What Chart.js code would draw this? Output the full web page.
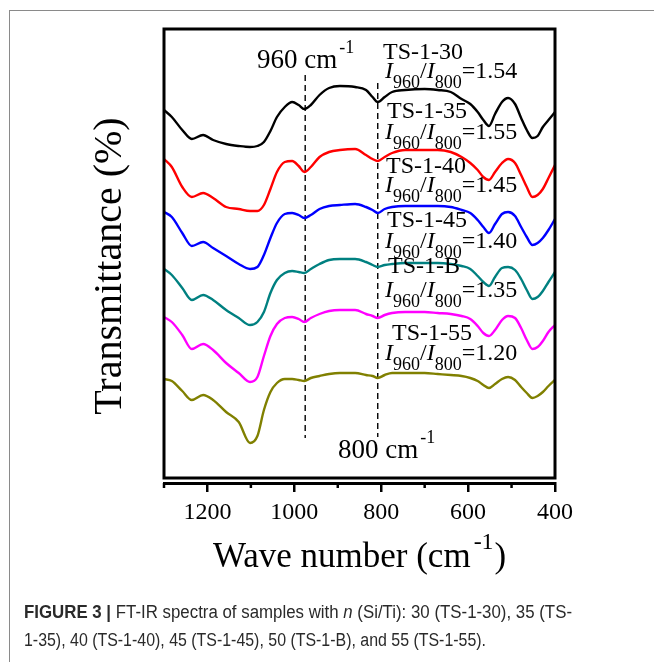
<!DOCTYPE html>
<html>
<head>
<meta charset="utf-8">
<script src="https://cdn.jsdelivr.net/npm/chart.js@4.4.1/dist/chart.umd.min.js"></script>
<style>
  html, body { margin: 0; padding: 0; background: #fff; }
  #wrap { position: relative; width: 654px; height: 662px; overflow: hidden; }
  #c { position: absolute; left: 0; top: 0; }
  #frame { position: absolute; left: 9px; top: 10px; width: 700px; height: 700px;
           border-left: 1px solid #8a8a8a; border-top: 1px solid #8a8a8a; }
  .cap { position: absolute; left: 24px; white-space: nowrap; color: #2a2a2a;
         font-family: "Liberation Sans", Arial, sans-serif; font-size: 18px;
         transform-origin: 0 0; }
  .cap b { font-weight: bold; }
</style>
</head>
<body>
<div id="wrap">
  <div id="frame"></div>
  <canvas id="c" width="654" height="662"></canvas>
  <div class="cap" id="cap1" style="top:602px"><b>FIGURE 3 |</b> FT-IR spectra of samples with <i>n</i> (Si/Ti): 30 (TS-1-30), 35 (TS-</div>
  <div class="cap" id="cap2" style="top:630px">1-35), 40 (TS-1-40), 45 (TS-1-45), 50 (TS-1-B), and 55 (TS-1-55).</div>
</div>
<script>
// ---- data (wavenumber, cm-1) ----
const wavenumbers = [1300,1282,1258,1236,1210,1187,1157,1128,1102,1085,
                     1070,1055,1040,1022,1005,990,977,962,942,920,
                     895,860,835,820,808,792,775,745,700,670,
                     640,615,595,578,565,552,538,522,508,492,
                     478,465,452,440,428,415,400];
// transmittance (arbitrary, offset units)
const ts30 = [373,366,353,344,348,343,339,337,336,337, 341,352,366,376,381,378,374,378,388,395,
              397,396,393,386,381,386,391,393,394,393, 391,384,379,371,363,357,369,381,385,379,
              365,353,345,347,356,363,371];
const ts35 = [324,316,296,286,290,285,276,274,272,272, 278,294,311,321,322,317,311,316,326,331,
              333,334,328,324,322,326,330,333,333,333, 331,326,320,313,306,303,311,320,324,320,
              308,296,286,288,294,305,318];
const ts40 = [271,266,250,237,241,235,227,219,214,216, 228,245,260,269,270,268,265,268,274,277,
              278,279,276,273,270,274,276,277,277,277, 276,273,270,263,256,250,259,269,271,267,
              256,246,238,240,245,253,264];
const ts45 = [214,208,195,183,188,183,173,165,158,161, 171,190,203,210,212,211,210,214,219,223,
              224,224,221,218,216,218,219,220,220,220, 219,217,214,207,201,197,206,215,216,213,
              204,193,184,186,192,201,211];
const tsB  = [166,161,148,134,139,133,120,110,101,106, 127,147,159,165,166,164,161,165,169,172,
              173,173,169,167,165,168,170,171,171,170, 169,167,164,157,150,147,153,163,167,165,
              155,143,134,136,142,151,158];
const ts55 = [104,102,92,83,88,83,71,61,40,47, 73,91,100,104,104,103,102,105,107,109,
              110,110,108,107,105,108,110,110,110,109, 108,107,105,102,98,95,99,104,106,103,
              96,90,85,87,91,97,103];
const seriesNames = ['TS-1-30','TS-1-35','TS-1-40','TS-1-45','TS-1-B','TS-1-55'];
const ratios = ['1.54','1.55','1.45','1.40','1.35','1.20'];
const markerLines = [975, 808];   // dashed reference lines (960 and 800 cm-1 bands)
const xTickValues = [1200, 1000, 800, 600, 400];

const colors = ['#000000','#ff0000','#0000ff','#008080','#ff00ff','#808000'];
const allSeries = [ts30, ts35, ts40, ts45, tsB, ts55];

const datasets = allSeries.map((s, k) => ({
  label: seriesNames[k],
  data: wavenumbers.map((x, i) => ({ x, y: s[i] })),
  borderColor: colors[k],
  borderWidth: 2.4,
  pointRadius: 0,
  cubicInterpolationMode: 'monotone',
  fill: false
}));
datasets.push({ label: 'm960', data: [{x: markerLines[0], y: 408}, {x: markerLines[0], y: 45}],
  borderColor: '#000', borderWidth: 1.4, borderDash: [6, 4], pointRadius: 0 });
datasets.push({ label: 'm800', data: [{x: markerLines[1], y: 400}, {x: markerLines[1], y: 46}],
  borderColor: '#000', borderWidth: 1.4, borderDash: [6, 4], pointRadius: 0 });

const SERIF = '"Liberation Serif", "Times New Roman", serif';

function txt(ctx, s, x, y, size, style) {
  ctx.font = (style || '') + ' ' + size + 'px ' + SERIF;
  ctx.fillText(s, x, y);
  return ctx.measureText(s).width;
}

const decor = {
  id: 'decor',
  afterDraw(chart) {
    const ctx = chart.ctx, a = chart.chartArea, xs = chart.scales.x;
    ctx.save();
    // frame
    ctx.strokeStyle = '#000'; ctx.lineWidth = 3;
    ctx.strokeRect(a.left, a.top, a.right - a.left, a.bottom - 5 - a.top);
    // minor ticks
    ctx.lineWidth = 2.5;
    [1300, 1100, 900, 700, 500].forEach(v => {
      const px = xs.getPixelForValue(v);
      ctx.beginPath(); ctx.moveTo(px, a.bottom); ctx.lineTo(px, a.bottom + 5); ctx.stroke();
    });
    ctx.fillStyle = '#000';
    ctx.textAlign = 'left'; ctx.textBaseline = 'alphabetic';
    // 960 / 800 annotations
    let w = txt(ctx, '960 cm', 257, 68, 27);
    txt(ctx, '-1', 257 + w + 2, 53, 18);
    w = txt(ctx, '800 cm', 338, 458, 27);
    txt(ctx, '-1', 338 + w + 2, 443, 18);
    // sample labels
    const lab = [[383,59,78],[387,118,139],[386,173,192],[387,227,248],[388,273,297],[392,340,360]];
    lab.forEach((p, k) => {
      txt(ctx, seriesNames[k], p[0], p[1], 24);
      let x = 385, b = p[2];
      x += txt(ctx, 'I', x, b, 24, 'italic');
      x += txt(ctx, '960', x, b + 10, 18);
      x += txt(ctx, '/', x, b, 24);
      x += txt(ctx, 'I', x, b, 24, 'italic');
      x += txt(ctx, '800', x, b + 10, 18);
      txt(ctx, '=' + ratios[k], x, b, 24);
    });
    // x title
    w = txt(ctx, 'Wave number (cm', 213, 567, 35);
    let w2 = txt(ctx, '-1', 213 + w + 3, 549, 24);
    txt(ctx, ')', 213 + w + 3 + w2 + 1, 567, 35);
    // y title
    ctx.translate(121, 266); ctx.rotate(-Math.PI / 2);
    ctx.textAlign = 'center';
    txt(ctx, 'Transmittance (%)', 0, 0, 40);
    ctx.restore();
  }
};

new Chart(document.getElementById('c'), {
  type: 'line',
  data: { datasets },
  options: {
    responsive: false, animation: false, devicePixelRatio: 1,
    layout: { padding: { left: 164, right: 99, top: 29, bottom: 0 } },
    plugins: { legend: { display: false }, tooltip: { enabled: false } },
    scales: {
      x: {
        type: 'linear', reverse: true, min: 400, max: 1300,
        afterFit(scale) { scale.height = 179; },
        afterBuildTicks(scale) {
          const t = [];
          for (let v = 400; v <= 1300; v += 100) t.push({ value: v });
          scale.ticks = t;
        },
        ticks: {
          autoSkip: false, maxRotation: 0, padding: 6, color: '#000',
          font: { family: SERIF, size: 24 },
          callback: (v) => xTickValues.includes(v) ? String(v) : ''
        },
        grid: {
          drawOnChartArea: false, drawTicks: true, tickLength: 9, lineWidth: 2.5,
          color: (c) => (c.tick && xTickValues.includes(c.tick.value)) ? '#000' : 'rgba(0,0,0,0)'
        },
        border: { display: true, color: '#000', width: 3 }
      },
      y: { type: 'linear', min: 0, max: 454, display: false }
    }
  },
  plugins: [decor]
});

// fit caption lines to the reference widths
function fit(id, target) {
  const el = document.getElementById(id);
  const w = el.getBoundingClientRect().width;
  el.style.transform = 'scaleX(' + (target / w) + ')';
}
fit('cap1', 548);
fit('cap2', 462);
</script>
</body>
</html>
